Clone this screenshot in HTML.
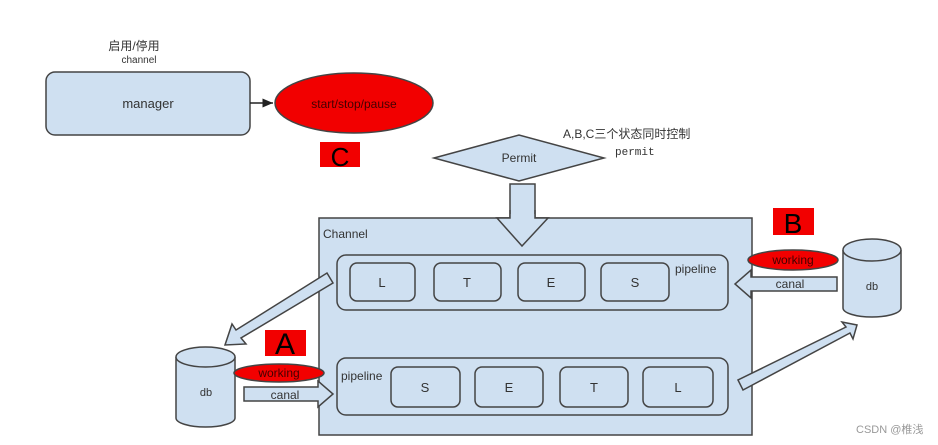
<!DOCTYPE html>
<html><head><meta charset="utf-8"><style>
html,body{margin:0;padding:0;background:#fff;}
svg{display:block;}
text{font-family:"Liberation Sans","Noto Sans CJK SC",sans-serif;}
</style></head><body>
<svg width="938" height="445" viewBox="0 0 938 445" xmlns="http://www.w3.org/2000/svg">
<defs>
<marker id="ah" markerWidth="8" markerHeight="8" refX="7" refY="4" orient="auto"><path d="M0,1 L7,4 L0,7 z" fill="#222"/></marker>
</defs>
<g stroke="#444" stroke-width="1.5">
<rect x="46" y="72" width="204" height="63" rx="9" fill="#cfe0f1"/>
<line x1="250" y1="103" x2="273" y2="103" stroke="#222" marker-end="url(#ah)"/>
<ellipse cx="354" cy="103" rx="79" ry="30" fill="#f20000"/>
<rect x="320" y="142" width="40" height="25" fill="#f20000" stroke="none"/>
<polygon points="434,158 519,135 604,158 519,181" fill="#cfe0f1"/>
<polygon points="510,184 535,184 535,218 548,218 522,246 497,218 510,218" fill="#cfe0f1"/>
<rect x="319" y="218" width="433" height="217" fill="#cfe0f1"/>
<polygon points="510,214 535,214 535,218 548,218 522,246 497,218 510,218" fill="#cfe0f1" stroke="none"/>
<polyline points="510,210 510,218 497,218 522,246 548,218 535,218 535,210" fill="none"/>
<rect x="337" y="255" width="391" height="55" rx="9" fill="#cfe0f1"/>
<rect x="350" y="263" width="65" height="38" rx="7" fill="#cfe0f1"/>
<rect x="434" y="263" width="67" height="38" rx="7" fill="#cfe0f1"/>
<rect x="518" y="263" width="67" height="38" rx="7" fill="#cfe0f1"/>
<rect x="601" y="263" width="68" height="38" rx="7" fill="#cfe0f1"/>
<rect x="337" y="358" width="391" height="57" rx="9" fill="#cfe0f1"/>
<rect x="391" y="367" width="69" height="40" rx="7" fill="#cfe0f1"/>
<rect x="475" y="367" width="68" height="40" rx="7" fill="#cfe0f1"/>
<rect x="560" y="367" width="68" height="40" rx="7" fill="#cfe0f1"/>
<rect x="643" y="367" width="70" height="40" rx="7" fill="#cfe0f1"/>
<path d="M176,357 L176,418 A29.5,9 0 0 0 235,418 L235,357" fill="#cfe0f1"/>
<ellipse cx="205.5" cy="357" rx="29.5" ry="10" fill="#cfe0f1"/>
<polygon points="333,283 327,273 236,330 232,324 225,345 246,344 241,338" fill="#cfe0f1"/>
<polygon points="244,387 318,387 318,381 333,394 318,407 318,401 244,401" fill="#cfe0f1"/>
<ellipse cx="279" cy="373" rx="45" ry="9" fill="#f20000"/>
<rect x="265" y="330" width="41" height="26" fill="#f20000" stroke="none"/>
<path d="M843,250 L843,308 A29,9 0 0 0 901,308 L901,250" fill="#cfe0f1"/>
<ellipse cx="872" cy="250" rx="29" ry="11" fill="#cfe0f1"/>
<polygon points="837,277 751,277 751,270 735,284 751,298 751,291 837,291" fill="#cfe0f1"/>
<ellipse cx="793" cy="260" rx="45" ry="10" fill="#f20000"/>
<rect x="773" y="208" width="41" height="27" fill="#f20000" stroke="none"/>
<polygon points="738,380 743,390 850,333 853,339 857,325 842,322 846,327" fill="#cfe0f1"/>
</g>
<g fill="#333">
<text x="134" y="50" font-size="12" text-anchor="middle">启用/停用</text>
<text x="139" y="63" font-size="10" text-anchor="middle">channel</text>
<text x="148" y="108" font-size="13" text-anchor="middle">manager</text>
<text x="354" y="108" font-size="12" text-anchor="middle" fill="#400">start/stop/pause</text>
<text x="340" y="166" font-size="26" text-anchor="middle" fill="#000">C</text>
<text x="519" y="162" font-size="12" text-anchor="middle">Permit</text>
<text x="563" y="138" font-size="12">A,B,C三个状态同时控制</text>
<text x="615" y="155" font-size="11" style="font-family:'Liberation Mono',monospace">permit</text>
<text x="323" y="238" font-size="12">Channel</text>
<text x="675" y="273" font-size="12">pipeline</text>
<text x="341" y="380" font-size="12">pipeline</text>
<g font-size="13" text-anchor="middle">
<text x="382" y="287">L</text><text x="467" y="287">T</text><text x="551" y="287">E</text><text x="635" y="287">S</text>
<text x="425" y="392">S</text><text x="509" y="392">E</text><text x="594" y="392">T</text><text x="678" y="392">L</text>
</g>
<text x="206" y="396" font-size="11" text-anchor="middle">db</text>
<text x="872" y="290" font-size="11" text-anchor="middle">db</text>
<text x="279" y="377" font-size="12" text-anchor="middle" fill="#400">working</text>
<text x="285" y="399" font-size="12" text-anchor="middle">canal</text>
<text x="285" y="354" font-size="30" text-anchor="middle" fill="#000">A</text>
<text x="793" y="264" font-size="12" text-anchor="middle" fill="#400">working</text>
<text x="790" y="288" font-size="12" text-anchor="middle">canal</text>
<text x="793" y="233" font-size="28" text-anchor="middle" fill="#000">B</text>
<text x="856" y="433" font-size="11" fill="#999">CSDN @椎浅</text>
</g>
</svg>
</body></html>
